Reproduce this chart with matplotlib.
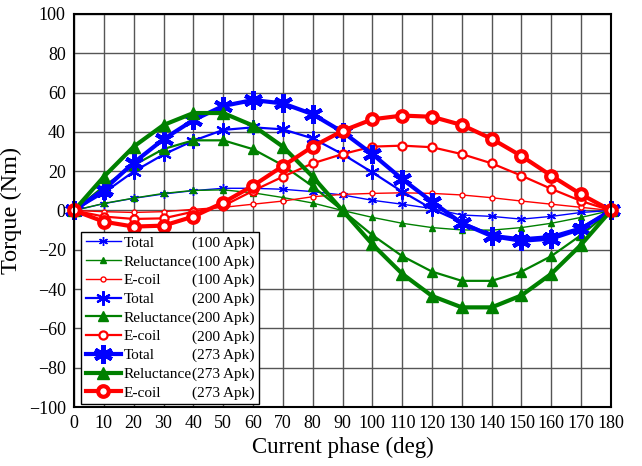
import matplotlib
matplotlib.use('agg')
import matplotlib.pyplot as plt
import numpy as np

plt.rcParams['font.family'] = ['Liberation Serif', 'DejaVu Serif']

phase = list(range(0, 190, 10))

total_100 = [0, 3.5, 6.2, 8.4, 10.1, 11.3, 11.3, 10.8, 9.6, 7.9, 5.2, 3.2, 1.0, -2.3, -3.0, -4.4, -3.0, -1.0, 0]
rel_100 = [0, 3.6, 6.3, 8.7, 10.2, 10.5, 9.0, 6.6, 3.8, 0, -3.5, -6.5, -8.7, -9.9, -10.0, -8.7, -6.5, -3.5, 0]
ecoil_100 = [0, -0.6, -1.0, -0.6, 0.6, 1.6, 3.2, 4.8, 7.0, 8.2, 8.7, 9.0, 8.7, 7.9, 6.5, 4.8, 3.2, 1.6, 0]

total_200 = [0, 9.0, 19.8, 28.5, 35.5, 41.0, 42.3, 41.3, 36.7, 28.7, 19.4, 9.6, 0.8, -6.0, -12.4, -14.2, -13.0, -8.6, 0]
rel_200 = [0, 12.3, 23.0, 31.3, 35.7, 35.7, 31.2, 23.0, 12.3, 0, -12.5, -23.2, -31.1, -35.8, -35.8, -31.1, -23.2, -12.5, 0]
ecoil_200 = [0, -3.1, -4.3, -4.0, -0.6, 2.3, 10.0, 17.2, 24.0, 28.7, 32.5, 33.0, 32.2, 28.7, 24.0, 17.7, 11.0, 4.8, 0]

total_273 = [0, 10.6, 24.3, 36.3, 46.0, 53.2, 56.2, 54.5, 49.0, 40.0, 28.7, 16.0, 4.5, -6.5, -13.0, -15.4, -14.3, -9.3, 0]
rel_273 = [0, 17.2, 32.5, 43.5, 49.6, 49.6, 43.2, 32.5, 17.2, 0, -17.2, -32.2, -43.5, -49.3, -49.3, -43.2, -32.2, -17.4, 0]
ecoil_273 = [0, -5.7, -8.2, -7.7, -3.1, 4.0, 12.6, 22.6, 32.5, 40.5, 46.4, 48.3, 47.7, 43.5, 36.5, 27.7, 17.7, 8.2, 0]

series = [
    ('Total', '100 Apk', total_100),
    ('Reluctance', '100 Apk', rel_100),
    ('E-coil', '100 Apk', ecoil_100),
    ('Total', '200 Apk', total_200),
    ('Reluctance', '200 Apk', rel_200),
    ('E-coil', '200 Apk', ecoil_200),
    ('Total', '273 Apk', total_273),
    ('Reluctance', '273 Apk', rel_273),
    ('E-coil', '273 Apk', ecoil_273),
]

colors = {'Total': '#0000ff', 'Reluctance': '#008000', 'E-coil': '#ff0000'}
# line width / marker scale per current level
widths = {'100 Apk': (1.0, 0.8), '200 Apk': (1.6, 1.3), '273 Apk': (3.0, 1.7)}

fig = plt.figure(figsize=(6.42, 4.66), dpi=100)
ax = fig.add_axes([0.1153, 0.1266, 0.8364, 0.8434])

for name, level, vals in series:
    lw, scale = widths[level]
    c = colors[name]
    if name == 'Total':
        kw = dict(marker=(6, 2, 0), markersize=8 * scale, markeredgewidth=lw, markeredgecolor=c)
    elif name == 'Reluctance':
        kw = dict(marker='^', markersize=5.5 * scale, markerfacecolor=c, markeredgecolor=c)
    else:
        kw = dict(marker='o', markersize=4.5 * scale, markerfacecolor='white', markeredgecolor=c,
                  markeredgewidth=lw)
    ax.plot(phase, vals, color=c, linewidth=lw, label=name, clip_on=False, **kw)

ax.set_xlim(0, 180)
ax.set_ylim(-100, 100)
ax.set_xticks(range(0, 190, 10))
ax.set_yticks(range(-100, 120, 20))
ax.grid(True, color='#555555', linewidth=1.0)
ax.set_axisbelow(True)
ax.tick_params(length=0, labelsize=13, pad=6)
for s in ax.spines.values():
    s.set_linewidth(1.5)
    s.set_color('black')

ax.set_xlabel('Current phase (deg)', fontsize=16.5, labelpad=3)
ax.set_ylabel('Torque (Nm)', fontsize=17.5, labelpad=5)

leg = ax.legend(loc='lower left', bbox_to_anchor=(0.013, 0.007, 0.331, 0.44), mode='expand',
                fontsize=11, frameon=True, fancybox=False, edgecolor='black',
                handlelength=2.3, labelspacing=0.33, borderpad=0.3, handletextpad=0.2,
                borderaxespad=0)
leg.get_frame().set_linewidth(1.0)
leg.get_frame().set_alpha(1)

# second legend column with the current level, right aligned in the box
fig.canvas.draw()
renderer = fig.canvas.get_renderer()
frame_bb = leg.get_frame().get_window_extent(renderer)
inv = fig.transFigure.inverted()
for t, (name, level, _) in zip(leg.get_texts(), series):
    bb = t.get_window_extent(renderer)
    fx, fy = inv.transform((frame_bb.x1 - 4, (bb.y0 + bb.y1) / 2))
    fig.text(fx, fy, f'({level})', ha='right', va='center', fontsize=11, zorder=10)

fig.savefig('out.png', dpi=100)
